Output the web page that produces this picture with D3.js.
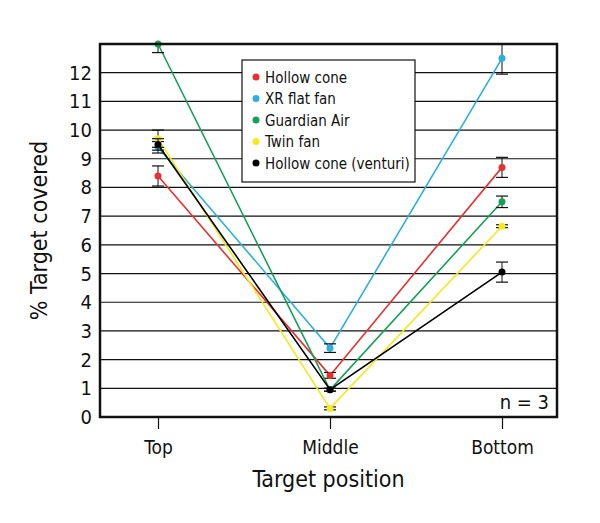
<!DOCTYPE html>
<html><head><meta charset="utf-8">
<script src="https://cdn.jsdelivr.net/npm/d3@7/dist/d3.min.js"></script>
<style>body{margin:0;background:#fff}text{font-family:"Liberation Sans Narrow","DejaVu Sans Condensed",sans-serif;fill:#111}</style>
</head><body><svg id="c" width="600" height="523"></svg>
<script>
const positions = ["Top","Middle","Bottom"];
const seriesNames = ["Hollow cone","XR flat fan","Guardian Air","Twin fan","Hollow cone (venturi)"];
const colors = ["#e8312f","#2bb0df","#12a156","#f4ea1c","#000000"];
const values = [
  [8.4, 1.45, 8.7],
  [9.4, 2.4, 12.5],
  [13.0, 0.95, 7.5],
  [9.7, 0.3, 6.65],
  [9.5, 0.95, 5.05]
];
const errors = [
  [0.35, 0.1, 0.35],
  [0.2, 0.15, 0.55],
  [0.3, 0.05, 0.2],
  [0.3, 0.05, 0.05],
  [0.2, 0.05, 0.35]
];
const yTicks = [0,1,2,3,4,5,6,7,8,9,10,11,12];

const svg = d3.select("#c");
const L=100,R=557,T=44,B=417;
const x = d3.scalePoint().domain(positions).range([158,502]);
const y = d3.scaleLinear().domain([0,13]).range([B,T]);

svg.append("g").selectAll("line").data(yTicks.slice(1)).join("line")
  .attr("x1",L).attr("x2",R).attr("y1",d=>y(d)).attr("y2",d=>y(d))
  .attr("stroke","#111").attr("stroke-width",1.2);

svg.append("g").selectAll("text").data(yTicks).join("text")
  .attr("x",L-8).attr("y",d=>y(d)+7).attr("text-anchor","end")
  .attr("font-size",20).text(d=>d);

const xa = svg.append("g").attr("transform",`translate(0,${B})`)
  .call(d3.axisBottom(x).tickSize(12).tickPadding(12));
xa.select(".domain").remove();
xa.selectAll("line").attr("stroke","#111").attr("stroke-width",1.2);
xa.selectAll("text").attr("font-size",19).attr("font-family",'"Liberation Sans Narrow","DejaVu Sans Condensed",sans-serif').attr("fill","#111");

const line = d3.line().x((d,i)=>x(positions[i])).y(d=>y(d));
values.forEach((vals,s)=>{
  const g = svg.append("g");
  g.append("path").attr("d",line(vals)).attr("fill","none").attr("stroke",colors[s]).attr("stroke-width",1.6);
  vals.forEach((v,i)=>{
    const e=errors[s][i], cx=x(positions[i]);
    g.append("line").attr("x1",cx).attr("x2",cx).attr("y1",y(v-e)).attr("y2",y(Math.min(v+e,13))).attr("stroke","#111");
    [v-e, v+e].forEach(w=>{ if(w<=13) g.append("line").attr("x1",cx-6).attr("x2",cx+6).attr("y1",y(w)).attr("y2",y(w)).attr("stroke","#111").attr("stroke-width",1.2);});
    g.append("circle").attr("cx",cx).attr("cy",y(v)).attr("r",3.5).attr("fill",colors[s]);
  });
});

svg.append("rect").attr("x",L).attr("y",T).attr("width",R-L).attr("height",B-T)
  .attr("fill","none").attr("stroke","#111").attr("stroke-width",2.5);

const lg = svg.append("g");
lg.append("rect").attr("x",242).attr("y",60).attr("width",173).attr("height",122).attr("fill","#fff").attr("stroke","#111").attr("stroke-width",1.2);
seriesNames.forEach((n,i)=>{
  const yy=77+i*21.5;
  lg.append("circle").attr("cx",256).attr("cy",yy).attr("r",3.5).attr("fill",colors[i]);
  lg.append("text").attr("x",265).attr("y",yy+5.5).attr("font-size",15).text(n);
});

svg.append("text").attr("x",R-8).attr("y",B-8).attr("text-anchor","end").attr("font-size",20).text("n = 3");
svg.append("text").attr("x",(L+R)/2).attr("y",487).attr("text-anchor","middle").attr("font-size",23).text("Target position");
svg.append("text").attr("transform",`translate(47,${(T+B)/2}) rotate(-90)`).attr("text-anchor","middle").attr("font-size",23).text("% Target covered");
</script></body></html>
